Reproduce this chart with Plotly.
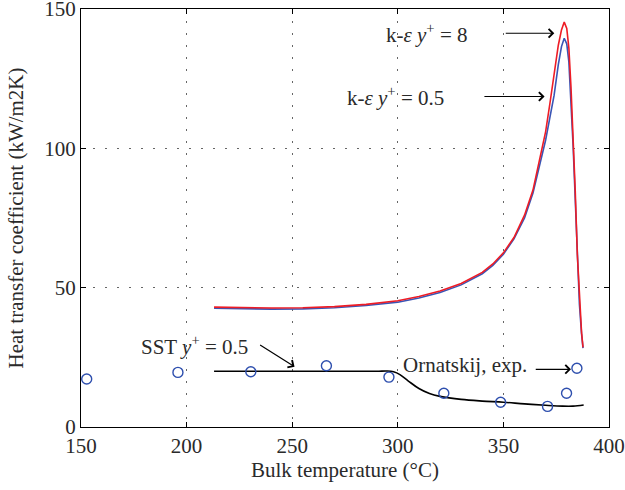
import plotly.graph_objects as go

# k-epsilon curves
ke_x = [213, 225, 240, 255, 270, 285, 300, 310, 320, 330, 340, 345, 350, 355, 360,
        364, 367, 370, 372, 374, 376, 377.5, 378.8, 380, 381, 382, 383, 384, 385,
        386, 387, 387.7]
ke8_y = [43.0, 42.8, 42.7, 42.8, 43.2, 44.0, 45.3, 46.8, 48.8, 51.5, 55.5, 58.5,
         62.5, 68, 76, 85, 95, 106, 116, 127, 137, 142.5, 145.3, 143, 136, 122,
         105, 85, 62, 45, 34, 28.6]
ke05_y = [42.6, 42.4, 42.3, 42.4, 42.8, 43.6, 44.8, 46.3, 48.3, 51.0, 55.0, 58.0,
          62.0, 67.5, 75, 84, 93, 103, 111, 119, 130, 136.5, 139.5, 137.5, 131,
          118, 101, 82, 60, 44, 33.5, 28.3]

# SST curve
sst_x = [213, 230, 250, 270, 290, 295, 298, 301, 305, 310, 315, 320, 330, 340,
         350, 360, 370, 378, 383, 388]
sst_y = [20, 20, 20, 20, 20, 20.1, 19.8, 18.8, 16.5, 13.8, 12.0, 11.0, 9.9, 9.3,
         8.9, 8.3, 7.8, 7.5, 7.5, 7.9]

# Ornatskij experiment
exp_x = [152.7, 195.9, 230.4, 266.2, 295.8, 321.8, 348.7, 370.9, 379.9, 384.8]
exp_y = [17.2, 19.6, 19.8, 22.0, 17.9, 12.1, 8.9, 7.4, 12.1, 21.1]

x_ticks = [150, 200, 250, 300, 350, 400]
y_ticks = [0, 50, 100, 150]

FONT = "Liberation Serif"
TXT = "#2a2a2a"

fig = go.Figure()
fig.add_trace(go.Scatter(x=ke_x, y=ke05_y, mode="lines",
                         line=dict(color="#3a55b5", width=1.6), showlegend=False))
fig.add_trace(go.Scatter(x=ke_x, y=ke8_y, mode="lines",
                         line=dict(color="#ee1c25", width=1.6), showlegend=False))
fig.add_trace(go.Scatter(x=sst_x, y=sst_y, mode="lines", line_shape="spline",
                         line=dict(color="black", width=1.6), showlegend=False))
fig.add_trace(go.Scatter(x=exp_x, y=exp_y, mode="markers",
                         marker=dict(symbol="circle-open", size=10,
                                     color="#2e4fae", line=dict(width=1.4)),
                         showlegend=False))

texts = [
    ("k-<i>ε</i> <i>y</i><sup>+</sup> = 8", 314, 141.3),
    ("k-<i>ε</i> <i>y</i><sup>+</sup> = 0.5", 299, 118.6),
    ("SST <i>y</i><sup>+</sup> = 0.5", 203.6, 29.4),
    ("Ornatskij, exp.", 332, 22.3),
]
arrows = [
    (350.4, 141.3, 374.1, 141.3),
    (340.3, 118.6, 369.5, 118.6),
    (234.1, 29.8, 251.1, 21.6),
    (364.6, 20.7, 382.0, 20.7),
]
for t, x, y in texts:
    fig.add_annotation(x=x, y=y, text=t, showarrow=False,
                       font=dict(family=FONT, size=21, color=TXT))
for x0, y0, x1, y1 in arrows:
    fig.add_annotation(x=x1, y=y1, ax=x0, ay=y0, axref="x", ayref="y", text="",
                       showarrow=True, arrowhead=4, arrowsize=1.4, arrowwidth=1.2,
                       arrowcolor="black")

axis_common = dict(showline=True, linecolor="black", linewidth=1.2, mirror="ticks",
                   ticks="inside", ticklen=5, tickcolor="black", tickwidth=1,
                   showgrid=True, gridcolor="#666", gridwidth=1,
                   griddash="2px,10px", zeroline=False, automargin=False,
                   ticklabeloverflow="allow",
                   tickfont=dict(family=FONT, size=21, color=TXT))

fig.update_xaxes(range=[150, 400], tickvals=x_ticks,
                 title=dict(text="Bulk temperature (°C)",
                            font=dict(family=FONT, size=21, color=TXT), standoff=5),
                 **axis_common)
fig.update_yaxes(range=[0, 150], tickvals=y_ticks,
                 title=dict(text="Heat transfer coefficient (kW/m2K)",
                            font=dict(family=FONT, size=21, color=TXT), standoff=14),
                 **axis_common)

fig.update_layout(width=625, height=490, margin=dict(l=81, r=16, t=9, b=63),
                  plot_bgcolor="white", paper_bgcolor="white",
                  font=dict(family=FONT))

fig.write_html("out.html", config={"displayModeBar": False},
               post_script="document.body.style.margin='0';document.body.style.overflow='hidden';")
